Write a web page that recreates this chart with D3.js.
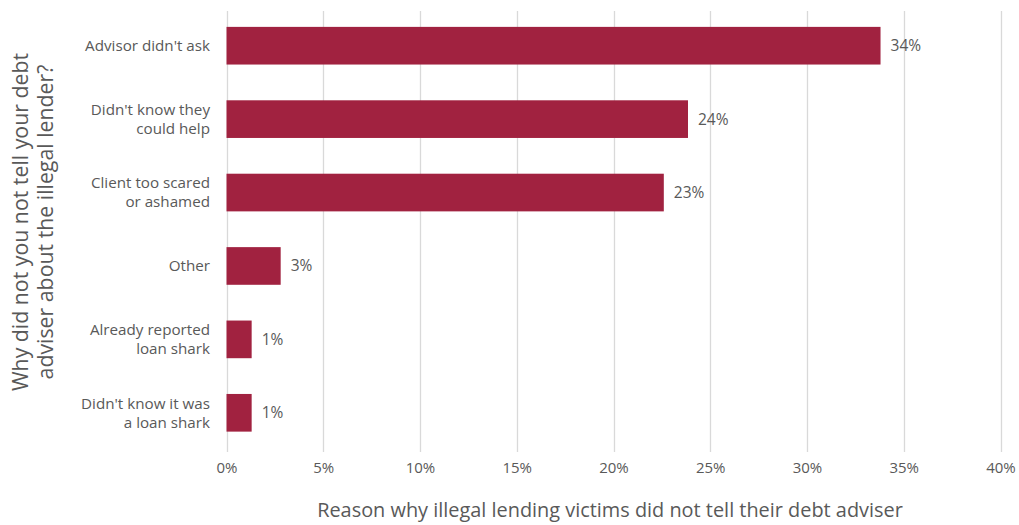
<!DOCTYPE html>
<html>
<head>
<meta charset="utf-8">
<script src="https://cdn.jsdelivr.net/npm/d3@7"></script>
<style>
  html, body { margin: 0; padding: 0; background: #fff; }
  svg { display: block; font-family: "Open Sans", "Noto Sans", sans-serif; }
</style>
</head>
<body>
<svg id="chart" width="1019" height="525"></svg>
<script>
// Reasons given, in display order (top to bottom)
const categories = [
  ["Advisor didn't ask"],
  ["Didn't know they", "could help"],
  ["Client too scared", "or ashamed"],
  ["Other"],
  ["Already reported", "loan shark"],
  ["Didn't know it was", "a loan shark"]
];
// Share of respondents (%)
const values = [33.8, 23.85, 22.6, 2.8, 1.3, 1.3];
const xTicks = [0, 5, 10, 15, 20, 25, 30, 35, 40];
const xTitle = "Reason why illegal lending victims did not tell their debt adviser";
const yTitle = ["Why did not you not tell your debt", "adviser about the illegal lender?"];

const svg = d3.select("#chart");
const barColor = "#A12240";
const textColor = "#595959";

const x = d3.scaleLinear().domain([0, 40]).range([226.5, 1000.5]);
const y = d3.scaleBand()
  .domain(d3.range(categories.length))
  .range([9, 449.5])
  .paddingInner(0.487)
  .paddingOuter(0.2435);

// Vertical gridlines
svg.append("g")
  .selectAll("line")
  .data(xTicks)
  .join("line")
  .attr("x1", d => Math.round(x(d)) + 0.5)
  .attr("x2", d => Math.round(x(d)) + 0.5)
  .attr("y1", 11)
  .attr("y2", 452)
  .attr("stroke", "#D9D9D9")
  .attr("stroke-width", 1.3);

// Bars
svg.append("g")
  .selectAll("rect")
  .data(values)
  .join("rect")
  .attr("x", x(0))
  .attr("y", (d, i) => y(i))
  .attr("width", d => x(d) - x(0))
  .attr("height", y.bandwidth())
  .attr("fill", barColor);

// Value labels
svg.append("g")
  .selectAll("text")
  .data(values)
  .join("text")
  .attr("x", d => x(d) + 10)
  .attr("y", (d, i) => y(i) + y.bandwidth() / 2)
  .attr("dy", "0.35em")
  .attr("fill", textColor)
  .attr("font-size", 15.5)
  .text(d => Math.round(d) + "%");

// Category labels
const catG = svg.append("g");
categories.forEach((lines, i) => {
  const cy = y(i) + y.bandwidth() / 2;
  const lh = 19;
  const t = catG.append("text")
    .attr("x", 210)
    .attr("text-anchor", "end")
    .attr("fill", textColor)
    .attr("font-size", 15.2);
  lines.forEach((ln, j) => {
    t.append("tspan")
      .attr("x", 210)
      .attr("y", cy + (j - (lines.length - 1) / 2) * lh)
      .attr("dy", "0.35em")
      .text(ln);
  });
});

// X tick labels
const xAxis = d3.axisBottom(x)
  .tickValues(xTicks)
  .tickFormat(d => d + "%")
  .tickSize(0)
  .tickPadding(0);
const xg = svg.append("g")
  .attr("transform", "translate(0,462)")
  .call(xAxis);
xg.select(".domain").remove();
xg.selectAll("text")
  .attr("fill", textColor)
  .attr("font-size", 15)
  .attr("font-family", "\"Open Sans\", sans-serif");

// X axis title
svg.append("text")
  .attr("x", 610)
  .attr("y", 517)
  .attr("text-anchor", "middle")
  .attr("fill", textColor)
  .attr("font-size", 19.9)
  .text(xTitle);

// Y axis title (rotated, two lines)
const yt = svg.append("text")
  .attr("transform", "translate(28,222) rotate(-90)")
  .attr("text-anchor", "middle")
  .attr("fill", textColor)
  .attr("font-size", 21.3);
yTitle.forEach((ln, j) => {
  yt.append("tspan")
    .attr("x", 0)
    .attr("y", j * 25)
    .text(ln);
});
</script>
</body>
</html>
